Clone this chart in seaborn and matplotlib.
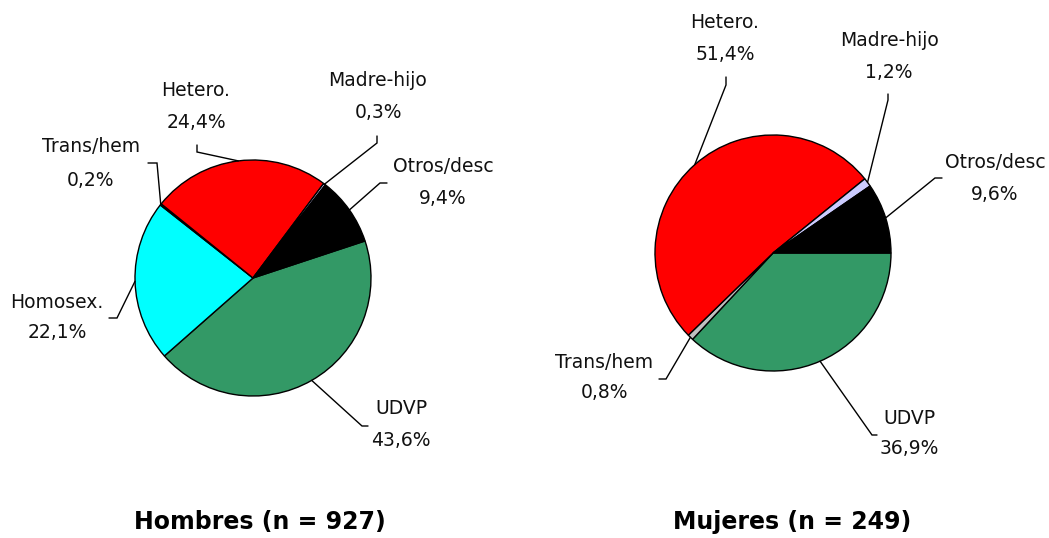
import numpy as np
import matplotlib
matplotlib.use("Agg")
import matplotlib.pyplot as plt
import seaborn as sns

# datos (% por categoria de transmision)
categories = ["UDVP", "Homosex.", "Trans/hem", "Hetero.", "Madre-hijo", "Otros/desc"]
hombres_pct = [43.6, 22.1, 0.2, 24.4, 0.3, 9.4]
mujeres_pct = [36.9, 0.0, 0.8, 51.4, 1.2, 9.6]
titles = ["Hombres (n = 927)", "Mujeres (n = 249)"]
colors = ["#339966", "#00FFFF", "#C0C0C0", "#FF0000", "#CCCCFF", "#000000"]

W, H = 1049, 538
RADIUS = 118

# layout en pixeles (y desde arriba): centro, angulo inicial, etiquetas
# etiqueta: (x texto, y linea1, y linea2, codo, final del tick)
left_layout = {
    "center": (253, 278), "start": 18.3, "title": (260, 522),
    "labels": {
        "UDVP": (401, 408, 440, (362, 426), (368, 426)),
        "Homosex.": (57, 302, 333, (117, 318), (109, 318)),
        "Trans/hem": (91, 147, 180, (157, 163), (148, 163)),
        "Hetero.": (196, 90, 122, (197, 152), (197, 145)),
        "Madre-hijo": (378, 80, 113, (377, 143), (377, 136)),
        "Otros/desc": (443, 167, 199, (380, 183), (387, 183)),
    },
}
right_layout = {
    "center": (773, 253), "start": 0.0, "title": (792, 522),
    "labels": {
        "UDVP": (909, 418, 448, (872, 435), (877, 435)),
        "Trans/hem": (604, 362, 392, (666, 379), (659, 379)),
        "Hetero.": (725, 23, 55, (726, 85), (726, 77)),
        "Madre-hijo": (889, 40, 72, (888, 100), (888, 94)),
        "Otros/desc": (995, 162, 195, (935, 178), (942, 178)),
    },
}

sns.set_theme(style="white")
plt.rcParams['font.family'] = ['DejaVu Sans']

fig = plt.figure(figsize=(W / 100, H / 100), dpi=100)
ax = fig.add_axes([0, 0, 1, 1])


def fy(y):
    # pixel desde arriba -> coordenada y hacia arriba
    return H - y


def draw_pie(values, layout):
    keep = [i for i, v in enumerate(values) if v > 0]
    vals = [values[i] for i in keep]
    cats = [categories[i] for i in keep]
    cols = [colors[i] for i in keep]
    cx, cy = layout["center"]
    wedges, _ = ax.pie(vals, colors=cols, startangle=layout["start"], counterclock=False,
                       radius=RADIUS, center=(cx, fy(cy)),
                       wedgeprops=dict(edgecolor="black", linewidth=1.0))
    for w, cat, v in zip(wedges, cats, vals):
        tx, y1, y2, elbow, tick = layout["labels"][cat]
        mid = np.deg2rad((w.theta1 + w.theta2) / 2)
        ex, ey = cx + RADIUS * np.cos(mid), fy(cy) + RADIUS * np.sin(mid)
        ax.plot([ex, elbow[0], tick[0]], [ey, fy(elbow[1]), fy(tick[1])],
                color="black", lw=1.0, solid_joinstyle="miter")
        ax.text(tx, fy(y1), cat, ha="center", va="center", fontsize=13.5, color="#111111")
        ax.text(tx, fy(y2), f"{v:.1f}%".replace(".", ","), ha="center", va="center",
                fontsize=13.5, color="#111111")


draw_pie(hombres_pct, left_layout)
draw_pie(mujeres_pct, right_layout)

for t, lay in zip(titles, [left_layout, right_layout]):
    ax.text(lay["title"][0], fy(lay["title"][1]), t, ha="center", va="center",
            fontsize=17, fontweight="bold", color="black")

ax.set_xlim(0, W)
ax.set_ylim(0, H)
ax.set_aspect("auto")
ax.axis("off")

fig.savefig("out.png", dpi=100, facecolor="white")
